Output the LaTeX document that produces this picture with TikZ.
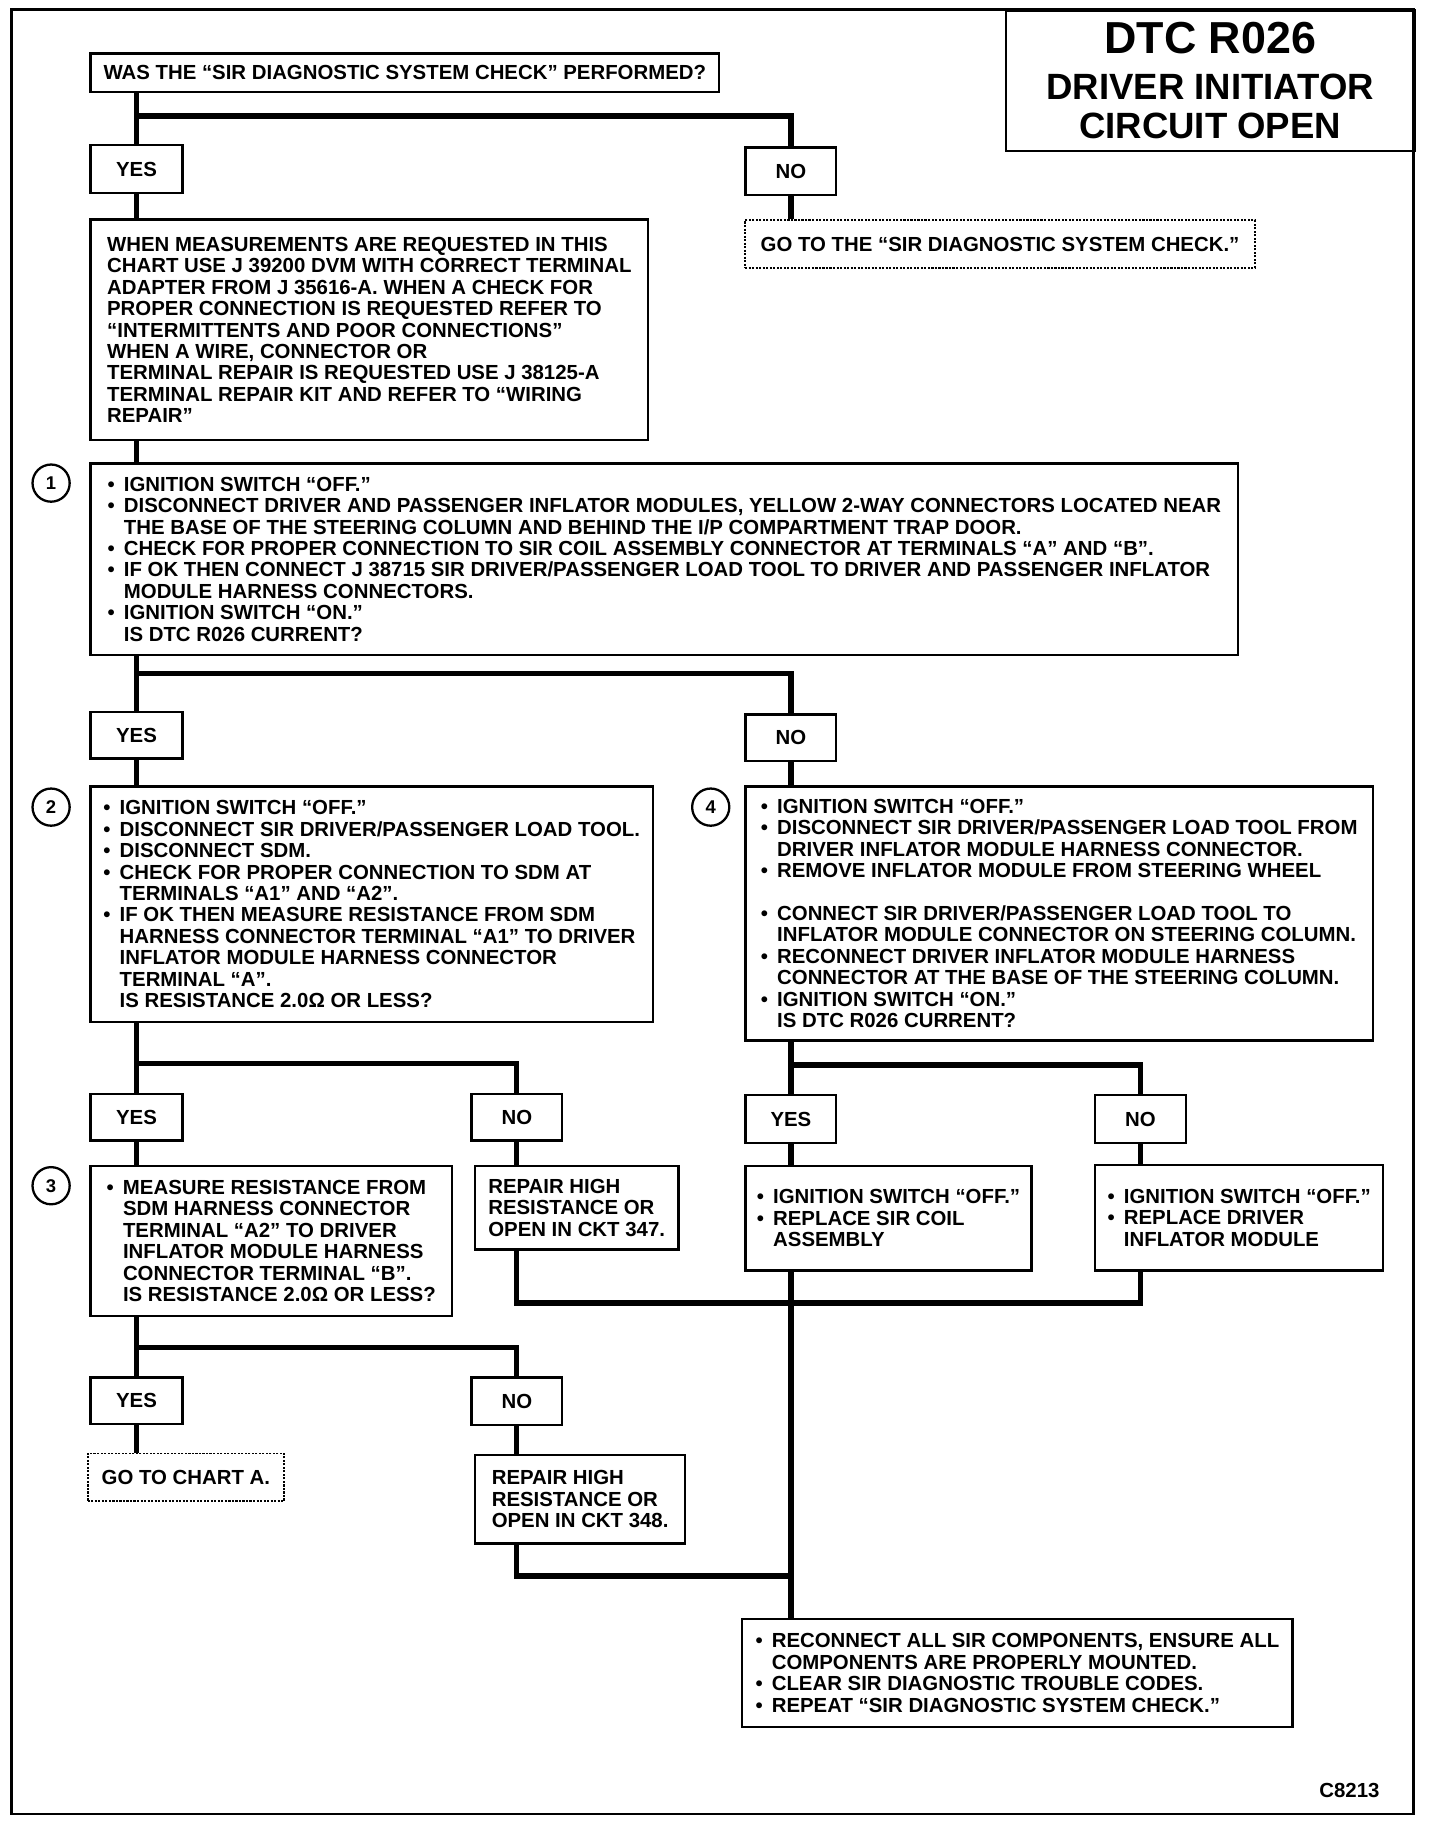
\documentclass[tikz,border=0pt]{standalone}
\usepackage{fontspec}
\setmainfont{Liberation Sans}
\usepackage{tikz}
\newcommand{\ux}{0.023226cm}
\newcommand{\itm}{\makebox[0.8em][l]{\textbullet}}
\newcommand{\cont}{\hspace*{0.8em}}

\begin{document}
\begin{tikzpicture}[x=\ux, y=-\ux,
	box/.style={draw=black, line width=1.4pt, anchor=north west, inner sep=0pt, align=left, font=\fontsize{11.6}{12.2}\selectfont\bfseries},
	goto/.style={box, line width=0.8pt, dash pattern=on 1.2pt off 0.8pt},
	sz/.style 2 args={minimum width=#1*\ux, minimum height=#2*\ux},
	num/.style={circle, draw=black, line width=1.3pt, minimum size=32*\ux, inner sep=0pt, font=\fontsize{10.5}{12}\selectfont\bfseries},
	conn/.style={line width=3pt}]
			\useasboundingbox (0,0) rectangle (1240,1575.8);
			\draw [black, line width=1.5pt] (10,8) rectangle (1217,1562);
			\node[box, sz={352}{121}, align=center, font=\fontsize{20.8}{22.4}\selectfont\bfseries] (title) at (865,8) {\fontsize{25.5}{26}\selectfont DTC R026\\[3.3pt]DRIVER INITIATOR\\CIRCUIT OPEN};
			\node[box, sz={541}{33}] (was) at (77,45) {WAS THE “SIR DIAGNOSTIC SYSTEM CHECK” PERFORMED?};
			\node[box, sz={79}{41}] (yes1) at (77,124) {YES};
			\node[box, sz={78}{41}] (no1) at (641,126) {NO};
			\node[goto, sz={439}{41}] (gosc) at (641,189) {GO TO THE “SIR DIAGNOSTIC SYSTEM CHECK.”};
			\node[box, sz={480}{190}] (info) at (77,188) {WHEN MEASUREMENTS ARE REQUESTED IN THIS\\CHART USE J 39200 DVM WITH CORRECT TERMINAL\\ADAPTER FROM J 35616-A. WHEN A CHECK FOR\\PROPER CONNECTION IS REQUESTED REFER TO\\“INTERMITTENTS AND POOR CONNECTIONS”\\WHEN A WIRE, CONNECTOR OR\\TERMINAL REPAIR IS REQUESTED USE J 38125-A\\TERMINAL REPAIR KIT AND REFER TO “WIRING\\REPAIR”};
			\node[box, sz={988}{165}] (chk1) at (77,398) {\itm IGNITION SWITCH “OFF.”\\\itm DISCONNECT DRIVER AND PASSENGER INFLATOR MODULES, YELLOW 2-WAY CONNECTORS LOCATED NEAR\\\cont THE BASE OF THE STEERING COLUMN AND BEHIND THE I/P COMPARTMENT TRAP DOOR.\\\itm CHECK FOR PROPER CONNECTION TO SIR COIL ASSEMBLY CONNECTOR AT TERMINALS “A” AND “B”.\\\itm IF OK THEN CONNECT J 38715 SIR DRIVER/PASSENGER LOAD TOOL TO DRIVER AND PASSENGER INFLATOR\\\cont MODULE HARNESS CONNECTORS.\\\itm IGNITION SWITCH “ON.”\\\cont IS DTC R026 CURRENT?};
			\node[num] (n1) at (44,416) {1};
			\node[box, sz={79}{40}] (yes2) at (77,612) {YES};
			\node[box, sz={78}{40}] (no2) at (641,614) {NO};
			\node[box, sz={484}{203}] (chk2) at (77,676) {\itm IGNITION SWITCH “OFF.”\\\itm DISCONNECT SIR DRIVER/PASSENGER LOAD TOOL.\\\itm DISCONNECT SDM.\\\itm CHECK FOR PROPER CONNECTION TO SDM AT\\\cont TERMINALS “A1” AND “A2”.\\\itm IF OK THEN MEASURE RESISTANCE FROM SDM\\\cont HARNESS CONNECTOR TERMINAL “A1” TO DRIVER\\\cont INFLATOR MODULE HARNESS CONNECTOR\\\cont TERMINAL “A”.\\\cont IS RESISTANCE 2.0Ω OR LESS?};
			\node[num] (n2) at (44,695) {2};
			\node[box, sz={540}{219}] (chk4) at (641,676) {\itm IGNITION SWITCH “OFF.”\\\itm DISCONNECT SIR DRIVER/PASSENGER LOAD TOOL FROM\\\cont DRIVER INFLATOR MODULE HARNESS CONNECTOR.\\\itm REMOVE INFLATOR MODULE FROM STEERING WHEEL\\[12.2pt]\itm CONNECT SIR DRIVER/PASSENGER LOAD TOOL TO\\\cont INFLATOR MODULE CONNECTOR ON STEERING COLUMN.\\\itm RECONNECT DRIVER INFLATOR MODULE HARNESS\\\cont CONNECTOR AT THE BASE OF THE STEERING COLUMN.\\\itm IGNITION SWITCH “ON.”\\\cont IS DTC R026 CURRENT?};
			\node[num] (n4) at (612,695) {4};
			\node[box, sz={79}{40}] (yes3) at (77,941) {YES};
			\node[box, sz={78}{40}] (no3) at (405,941) {NO};
			\node[box, sz={78}{41}] (yes4) at (641,942) {YES};
			\node[box, sz={78}{41}] (no4) at (942,942) {NO};
			\node[box, sz={311}{129}] (chk3) at (77,1003) {\itm MEASURE RESISTANCE FROM\\\cont SDM HARNESS CONNECTOR\\\cont TERMINAL “A2” TO DRIVER\\\cont INFLATOR MODULE HARNESS\\\cont CONNECTOR TERMINAL “B”.\\\cont IS RESISTANCE 2.0Ω OR LESS?};
			\node[num] (n3) at (44,1021) {3};
			\node[box, sz={175}{72}] (fix347) at (408,1003) {REPAIR HIGH\\RESISTANCE OR\\OPEN IN CKT 347.};
			\node[box, sz={246}{90}] (coil) at (641,1003) {\itm IGNITION SWITCH “OFF.”\\\itm REPLACE SIR COIL\\\cont ASSEMBLY};
			\node[box, sz={248}{91}] (infl) at (942,1002) {\itm IGNITION SWITCH “OFF.”\\\itm REPLACE DRIVER\\\cont INFLATOR MODULE};
			\node[box, sz={79}{40}] (yes5) at (77,1185) {YES};
			\node[box, sz={78}{41}] (no5) at (405,1185) {NO};
			\node[goto, sz={169}{41}] (chartA) at (75,1251) {GO TO CHART A.};
			\node[box, sz={181}{76}] (fix348) at (408,1252) {REPAIR HIGH\\RESISTANCE OR\\OPEN IN CKT 348.};
			\node[box, sz={474}{93}] (done) at (638,1393) {\itm RECONNECT ALL SIR COMPONENTS, ENSURE ALL\\\cont COMPONENTS ARE PROPERLY MOUNTED.\\\itm CLEAR SIR DIAGNOSTIC TROUBLE CODES.\\\itm REPEAT “SIR DIAGNOSTIC SYSTEM CHECK.”};
			\node[font=\fontsize{11.6}{12}\selectfont\bfseries] (code) at (1162,1542) {C8213};
			\coordinate (b1) at (0,100);
			\coordinate (b2) at (0,580);
			\coordinate (b3) at (0,916);
			\coordinate (b4) at (0,917);
			\coordinate (b5) at (0,1160);
			\coordinate (m1) at (0,1122);
			\coordinate (m2) at (0,1357);
			\draw[conn] (yes1 |- was.south) -- (yes1.north);
			\draw[conn] (yes1 |- b1) -| (no1.north);
			\draw[conn] (no1.south) -- (no1 |- gosc.north);
			\draw[conn] (yes1.south) -- (yes1 |- info.north);
			\draw[conn] (yes1 |- info.south) -- (yes1 |- chk1.north);
			\draw[conn] (yes2 |- chk1.south) -- (yes2.north);
			\draw[conn] (yes2 |- b2) -| (no2.north);
			\draw[conn] (yes2.south) -- (yes2 |- chk2.north);
			\draw[conn] (no2.south) -- (no2 |- chk4.north);
			\draw[conn] (yes3 |- chk2.south) -- (yes3.north);
			\draw[conn] (yes3 |- b3) -| (no3.north);
			\draw[conn] (yes3.south) -- (yes3 |- chk3.north);
			\draw[conn] (no3.south) -- (no3 |- fix347.north);
			\draw[conn] (yes4 |- chk4.south) -- (yes4.north);
			\draw[conn] (yes4 |- b4) -| (no4.north);
			\draw[conn] (yes4.south) -- (yes4 |- coil.north);
			\draw[conn] (no4.south) -- (no4 |- infl.north);
			\draw[conn] (no3 |- fix347.south) |- (no4 |- m1) -- (no4 |- infl.south);
			\draw[conn] (yes4 |- coil.south) -- (yes4 |- done.north);
			\draw[conn] (yes5 |- chk3.south) -- (yes5.north);
			\draw[conn] (yes5 |- b5) -| (no5.north);
			\draw[conn] (yes5.south) -- (yes5 |- chartA.north);
			\draw[conn] (no5.south) -- (no5 |- fix348.north);
			\draw[conn] (no5 |- fix348.south) |- (yes4 |- m2);
\end{tikzpicture}
\end{document}
